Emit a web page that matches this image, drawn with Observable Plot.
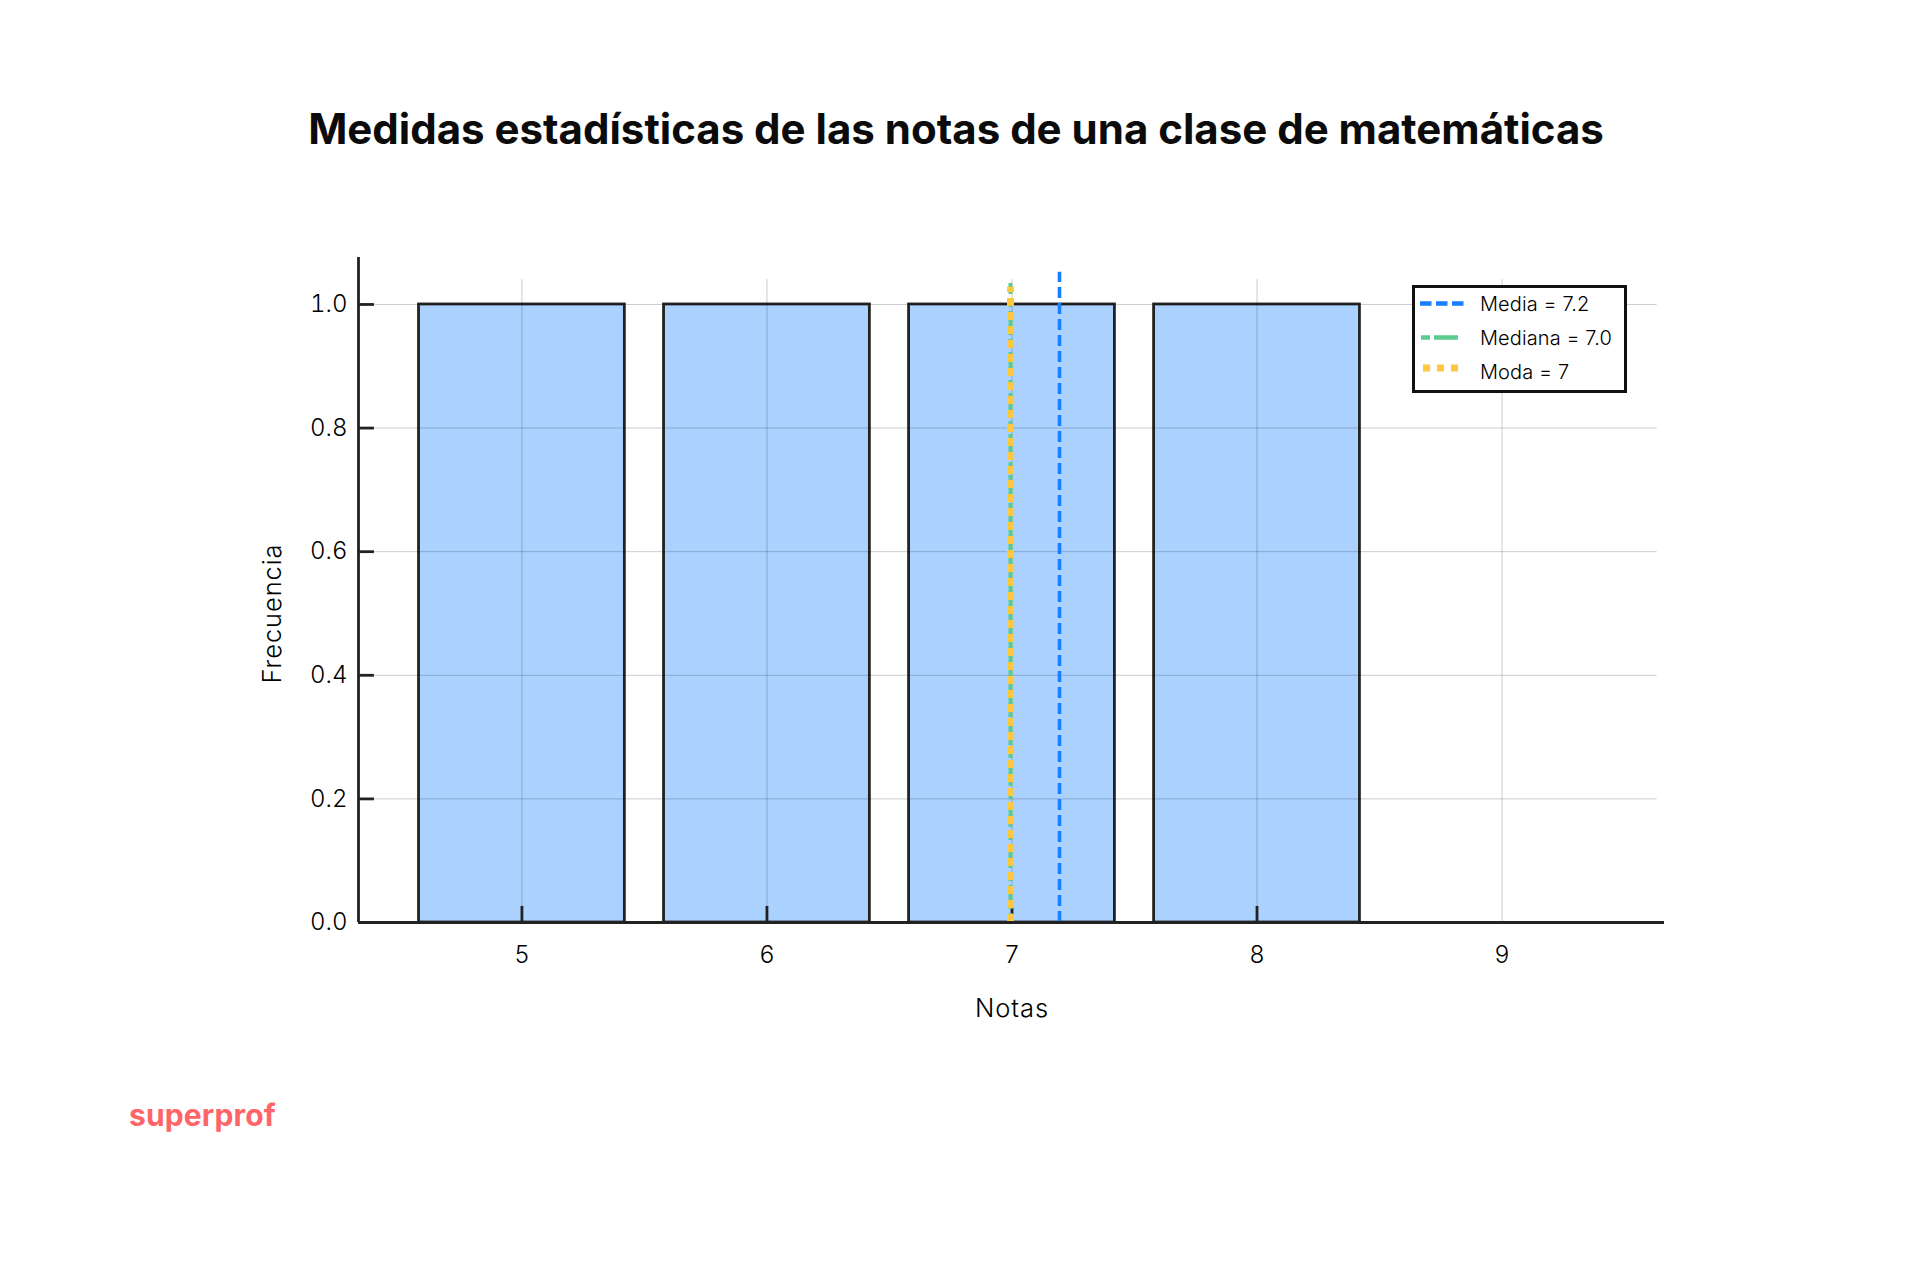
<!DOCTYPE html>
<html lang="es">
<head>
<meta charset="utf-8">
<script src="https://cdn.jsdelivr.net/npm/d3@7"></script>
<script src="https://cdn.jsdelivr.net/npm/@observablehq/plot@0.6"></script>
<style>
  html, body { margin: 0; padding: 0; background: #fff; }
  body { width: 1920px; height: 1280px; position: relative; overflow: hidden; font-family: Inter, sans-serif; color: #000; }
  #title { position: absolute; left: 0; top: 100px; width: 1912px; text-align: center; font-size: 42px; line-height: 58px; font-weight: 700; letter-spacing: 0; margin: 0; color: #0b0b0b; }
  #chart { position: absolute; left: 0; top: 200px; }
  #legend { position: absolute; left: 1412px; top: 285px; width: 209px; height: 102px; border: 3px solid #111; background: #fff; }
  .row { position: absolute; left: 0; height: 34px; display: flex; align-items: center; font-size: 20px; font-weight: 300; letter-spacing: 0.1px; white-space: nowrap; color: #000; }
  .row svg { display: block; margin-left: 5px; margin-right: 15px; }
  #brand { position: absolute; left: 129px; top: 1094px; font-size: 30px; line-height: 42px; font-weight: 700; color: #ff6469; letter-spacing: 0.15px; }
  svg text { font-family: Inter, sans-serif; }
  .lab text { letter-spacing: 0.9px; }
</style>
</head>
<body>
<h1 id="title">Medidas estadísticas de las notas de una clase de matemáticas</h1>
<div id="chart"></div>
<div id="legend"></div>
<div id="brand">superprof</div>
<script>
const notas = [5, 6, 7, 8];
const frecuencias = [1, 1, 1, 1];
const ticksX = [5, 6, 7, 8, 9];
const ticksY = [0, 0.2, 0.4, 0.6, 0.8, 1.0];
const medidas = ["Media", "Mediana", "Moda"];
const valoresMedidas = [7.2, 7.0, 7.0];
const etiquetas = ["Media = 7.2", "Mediana = 7.0", "Moda = 7"];
const coloresMedidas = ["#1a7fff", "#5ccb8f", "#ffc83d"];
const topesMedidas = [1.052, 1.034, 1.028];
const dashes = ["11 5", "9 4 24 4", "8 6"];
const grosores = [3.6, 4, 7];
const anchoBarra = 0.42;
const xDom = [4.333, 9.663];
const yDom = [0, 1.076];
const axisColor = "#222";

const barras = notas.map((n, i) => ({x1: n - anchoBarra, x2: n + anchoBarra, y: frecuencias[i]}));
const reglas = medidas.map((m, i) => ({m, x: valoresMedidas[i], top: topesMedidas[i], c: coloresMedidas[i], d: dashes[i], w: grosores[i]}));

const fig = Plot.plot({
  width: 1920,
  height: 860,
  marginLeft: 358,
  marginRight: 256,
  marginTop: 57,
  marginBottom: 138,
  x: {domain: xDom, ticks: ticksX},
  y: {domain: yDom, ticks: ticksY},
  style: {background: "transparent", fontFamily: "Inter, sans-serif"},
  marks: [
    Plot.rectY(barras, {x1: "x1", x2: "x2", y1: 0, y2: "y", fill: "#abd1ff", stroke: "#222", strokeWidth: 2.8}),
    Plot.ruleY(ticksY.slice(1), {x1: xDom[0], x2: 9.633, stroke: "#000", strokeOpacity: 0.2, strokeWidth: 1}),
    Plot.ruleX(ticksX, {y1: 0, y2: 1.04, stroke: "#000", strokeOpacity: 0.2, strokeWidth: 1}),
    Plot.ruleX(notas, {y1: 0, y2: 0.026, stroke: axisColor, strokeWidth: 2.8}),
    Plot.ruleY(ticksY, {x1: xDom[0], x2: 4.398, stroke: axisColor, strokeWidth: 2.8}),
    ...reglas.map(r => Plot.ruleX([r.x], {y1: 0, y2: r.top, dx: -1.5, stroke: r.c, strokeWidth: r.w, strokeDasharray: r.d})),
    Plot.ruleY([0], {x1: xDom[0], x2: xDom[1], stroke: axisColor, strokeWidth: 2.8}),
    Plot.ruleX([xDom[0]], {y1: yDom[0], y2: yDom[1], stroke: axisColor, strokeWidth: 2.8}),
    Plot.axisX({ticks: ticksX, tickSize: 0, tickPadding: 23, tickFormat: d3.format("d"), label: null, fontSize: 24, fontWeight: 300, fill: "#000"}),
    Plot.axisY({ticks: ticksY, tickSize: 0, tickPadding: 11, tickFormat: d3.format(".1f"), label: null, fontSize: 24, fontWeight: 300, fill: "#000"}),
    Plot.text(["Notas"], {x: 7, y: 0, dy: 86, text: d => d, fontSize: 25.5, fontWeight: 300, fill: "#000", className: "lab"}),
    Plot.text(["Frecuencia"], {x: xDom[0], y: 0.5, dx: -86, rotate: -90, text: d => d, fontSize: 25.5, fontWeight: 300, fill: "#000", className: "lab"})
  ]
});
document.getElementById("chart").appendChild(fig);

const legend = document.getElementById("legend");
const dashLeg = ["11.5 4.5", "9 4 24 4", "7 7"];
const anchoLeg = [[0, 45], [1, 38], [3, 38]];
const grosorLeg = [4.4, 4.4, 7];
const altoLeg = [16.5, 16.5, 13];
etiquetas.forEach((t, i) => {
  const row = document.createElement("div");
  row.className = "row";
  row.style.top = (i * 34 - 1) + "px";
  row.innerHTML = `<svg width="45" height="34"><line x1="${anchoLeg[i][0]}" x2="${anchoLeg[i][1]}" y1="${altoLeg[i]}" y2="${altoLeg[i]}" stroke="${coloresMedidas[i]}" stroke-width="${grosorLeg[i]}" stroke-dasharray="${dashLeg[i]}"/></svg><span>${t}</span>`;
  legend.appendChild(row);
});
</script>
</body>
</html>
